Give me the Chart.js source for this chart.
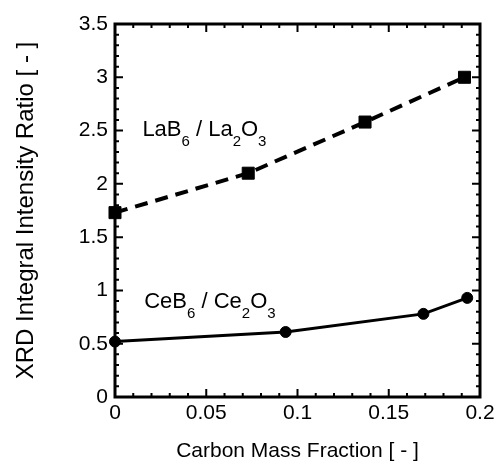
<!DOCTYPE html>
<html>
<head>
<meta charset="utf-8">
<script src="https://cdn.jsdelivr.net/npm/chart.js@4.4.0/dist/chart.umd.min.js"></script>
<style>
  html, body { margin: 0; padding: 0; background: #fff; }
  #wrap { width: 503px; height: 461px; }
</style>
</head>
<body>
<div id="wrap"><canvas id="xrdChart" width="503" height="461"></canvas></div>
<script>
// data
var laCarbon = [0, 0.073, 0.137, 0.1915];
var laRatio = [1.73, 2.10, 2.58, 3.00];
var ceCarbon = [0, 0.0935, 0.169, 0.193];
var ceRatio = [0.52, 0.61, 0.78, 0.93];

var xTickLabels = ['0', '0.05', '0.1', '0.15', '0.2'];
var yTickLabels = ['0', '0.5', '1', '1.5', '2', '2.5', '3', '3.5'];

var FONT = '"Liberation Sans", Arial, Helvetica, sans-serif';

function toPoints(xs, ys) {
  return xs.map(function (x, i) { return { x: x, y: ys[i] }; });
}

// frame + inward ticks on all four sides
var framePlugin = {
  id: 'frame',
  afterDraw: function (chart) {
    var ctx = chart.ctx;
    var a = chart.chartArea;
    var xs = chart.scales.x, ys = chart.scales.y;
    ctx.save();
    ctx.strokeStyle = '#000';
    ctx.lineWidth = 2;
    ctx.beginPath();
    for (var i = 0; i <= 20; i++) {
      var px = xs.getPixelForValue(i * 0.01);
      var len = (i % 5 === 0) ? 8 : 4;
      ctx.moveTo(px, a.bottom); ctx.lineTo(px, a.bottom - len);
      ctx.moveTo(px, a.top); ctx.lineTo(px, a.top + len);
    }
    for (var j = 0; j <= 35; j++) {
      var py = ys.getPixelForValue(j * 0.1);
      var l2 = (j % 5 === 0) ? 8 : 4;
      ctx.moveTo(a.left, py); ctx.lineTo(a.left + l2, py);
      ctx.moveTo(a.right, py); ctx.lineTo(a.right - l2, py);
    }
    ctx.stroke();
    ctx.lineWidth = 3;
    ctx.strokeRect(a.left, a.top, a.right - a.left, a.bottom - a.top);
    ctx.restore();
  }
};

// chemical formula labels with subscripts
var formulaPlugin = {
  id: 'formulas',
  afterDatasetsDraw: function (chart, args, opts) {
    var ctx = chart.ctx;
    var xs = chart.scales.x, ys = chart.scales.y;
    ctx.save();
    ctx.fillStyle = '#000';
    ctx.textBaseline = 'alphabetic';
    opts.items.forEach(function (item) {
      var x = xs.getPixelForValue(item.x);
      var y = ys.getPixelForValue(item.y);
      item.parts.forEach(function (p) {
        var sub = p[1];
        ctx.font = (sub ? opts.subSize : opts.size) + 'px ' + FONT;
        ctx.fillText(p[0], x, sub ? y + opts.subDrop : y);
        x += ctx.measureText(p[0]).width;
      });
    });
    ctx.restore();
  }
};

var ctx = document.getElementById('xrdChart').getContext('2d');
var xrdChart = new Chart(ctx, {
  type: 'scatter',
  data: {
    datasets: [{
      label: 'LaB6 / La2O3',
      data: toPoints(laCarbon, laRatio),
      showLine: true,
      clip: false,
      borderColor: '#000',
      backgroundColor: '#000',
      borderWidth: 4,
      borderDash: [13, 8],
      pointStyle: 'rect',
      pointRadius: 8.5,
      pointBorderWidth: 1
    }, {
      label: 'CeB6 / Ce2O3',
      data: toPoints(ceCarbon, ceRatio),
      showLine: true,
      clip: false,
      borderColor: '#000',
      backgroundColor: '#000',
      borderWidth: 3,
      pointStyle: 'circle',
      pointRadius: 5.5,
      pointBorderWidth: 1
    }]
  },
  options: {
    responsive: false,
    animation: false,
    layout: { padding: { left: 0, top: 24, right: 23, bottom: 0 } },
    plugins: {
      legend: { display: false },
      tooltip: { enabled: false },
      formulas: {
        size: 22, subSize: 15, subDrop: 10,
        items: [
          { x: 0.015, y: 2.45, parts: [['LaB', 0], ['6', 1], [' / La', 0], ['2', 1], ['O', 0], ['3', 1]] },
          { x: 0.016, y: 0.835, parts: [['CeB', 0], ['6', 1], [' / Ce', 0], ['2', 1], ['O', 0], ['3', 1]] }
        ]
      }
    },
    scales: {
      x: {
        type: 'linear',
        min: 0, max: 0.2,
        afterFit: function (s) { s.height = 64; },
        grid: { display: false, drawTicks: false },
        border: { display: false },
        ticks: {
          stepSize: 0.05,
          padding: 4,
          color: '#000',
          font: { family: FONT, size: 21 },
          maxRotation: 0,
          callback: function (v, i) { return xTickLabels[i]; }
        },
        title: {
          display: true,
          text: 'Carbon Mass Fraction [ - ]',
          color: '#000',
          font: { family: FONT, size: 21 },
          padding: { top: 0, bottom: -3 }
        }
      },
      y: {
        min: 0, max: 3.5,
        afterFit: function (s) { s.width = 115; },
        grid: { display: false, drawTicks: false },
        border: { display: false },
        ticks: {
          stepSize: 0.5,
          padding: 7,
          color: '#000',
          font: { family: FONT, size: 21 },
          callback: function (v, i) { return yTickLabels[i]; }
        },
        title: {
          display: true,
          text: 'XRD Integral Intensity Ratio [ - ]',
          color: '#000',
          font: { family: FONT, size: 24 },
          padding: { top: 12, bottom: 0 }
        }
      }
    }
  },
  plugins: [framePlugin, formulaPlugin]
});
</script>
</body>
</html>
